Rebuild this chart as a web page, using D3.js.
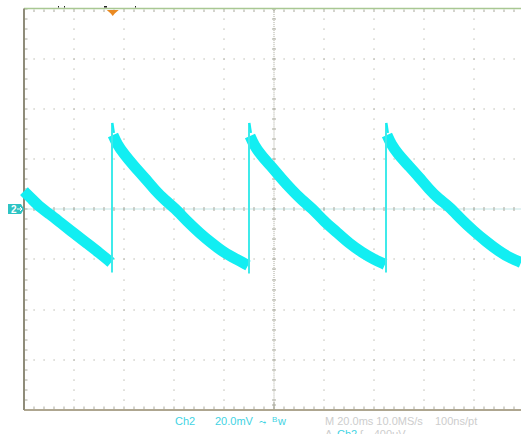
<!DOCTYPE html>
<html>
<head>
<meta charset="utf-8">
<script src="https://cdn.jsdelivr.net/npm/d3@7"></script>
<style>
  html, body { margin: 0; padding: 0; background: #ffffff; }
  svg { display: block; font-family: "Liberation Sans", Arial, sans-serif; }
</style>
</head>
<body>
<svg id="scope" width="521" height="434"></svg>
<script>
// Channel 2 capture: time in ms across the screen (20 ms/div), amplitude in mV (20 mV/div)
const rampTimes = [
  [0, 3.2, 6.4, 10.4, 14.4, 20.0, 25.2, 30.4, 34.8],
  [35.6, 37.2, 40.0, 44.0, 48.4, 52.4, 56.4, 60.4, 65.2, 70.4, 75.2, 80.4, 85.2, 89.6],
  [90.4, 92.0, 94.8, 98.8, 103.2, 107.2, 111.2, 115.2, 120.0, 125.2, 130.0, 135.2, 140.0, 144.4],
  [145.2, 146.8, 149.6, 153.6, 158.0, 162.0, 166.0, 170.0, 174.8, 180.0, 184.8, 190.0, 194.8, 198.8]
];
const rampMv = [
  [7.2, 4.0, 0.8, -2.0, -5.2, -9.6, -13.6, -17.6, -21.2],
  [29.6, 26.0, 22.0, 17.2, 12.4, 7.6, 3.6, 0.4, -4.8, -9.6, -13.6, -17.6, -20.0, -22.4],
  [29.2, 25.6, 21.6, 17.2, 12.0, 7.6, 3.6, 0.4, -4.8, -9.2, -13.6, -17.2, -20.0, -22.0],
  [29.6, 26.0, 22.0, 17.6, 12.8, 8.0, 4.0, 1.2, -4.0, -8.8, -12.8, -16.8, -19.6, -21.2]
];
// Fast edges: time, bottom and top of each jump (mV)
const edgeTimes = [35.2, 90.0, 144.8];
const edgeLowMv = [-25.2, -25.6, -25.2];
const edgeHighMv = [34.4, 34.4, 34.4];

// Readout text
const readoutLeft = [["Ch2", 175], ["20.0mV", 215]];
const readoutRight = [["M 20.0ms 10.0MS/s", 325], ["100ns/pt", 435]];
const triggerSource = "Ch2";
const triggerLevel = "-400\u03bcV";
const triggerTimeMs = 35.5;

const svg = d3.select("#scope");
const frameL = 24, frameR = 524, frameT = 8.5, frameB = 410;

const x = d3.scaleLinear().domain([0, 200]).range([frameL, frameR]);
const y = d3.scaleLinear().domain([-80, 80]).range([frameB, frameT]);

const gridColor = "#a9a99c";
const g = svg.append("g");

// Dotted graticule: a dot every minor step along every major line
const majorT = d3.range(20, 200, 20);
const majorV = d3.range(-60, 61, 20).filter(v => v !== 0);
const minorT = d3.range(0, 200.01, 4);
const minorV = d3.range(-80, 80.01, 4);

majorT.filter(t => t !== 100).forEach(t => {
  minorV.forEach(v => {
    g.append("rect").attr("x", Math.round(x(t)) - 0.5).attr("y", Math.round(y(v)) - 0.5)
      .attr("width", 1).attr("height", 1.2).attr("fill", gridColor);
  });
});
majorV.forEach(v => {
  minorT.forEach(t => {
    g.append("rect").attr("x", Math.round(x(t)) - 0.5).attr("y", Math.round(y(v)) - 0.5)
      .attr("width", 1.2).attr("height", 1).attr("fill", gridColor);
  });
});

// Centre cross: fine dots with minor ticks
const cx = Math.round(x(100)), cy = Math.round(y(0));
d3.range(0, 200.01, 0.8).forEach(t => {
  g.append("rect").attr("x", x(t) - 0.5).attr("y", cy - 0.5).attr("width", 1).attr("height", 1)
    .attr("fill", "#8ccaca");
});
d3.range(-80, 80.01, 0.8).forEach(v => {
  g.append("rect").attr("x", cx - 0.5).attr("y", y(v) - 0.5).attr("width", 1).attr("height", 1)
    .attr("fill", gridColor);
});
minorT.forEach(t => {
  g.append("line").attr("x1", Math.round(x(t))).attr("x2", Math.round(x(t)))
    .attr("y1", cy - 2).attr("y2", cy + 2).attr("stroke", gridColor).attr("stroke-width", 1);
});
minorV.forEach(v => {
  g.append("line").attr("x1", cx - 2).attr("x2", cx + 2)
    .attr("y1", Math.round(y(v))).attr("y2", Math.round(y(v))).attr("stroke", gridColor).attr("stroke-width", 1);
});

// Edge ticks
minorT.forEach(t => {
  const xt = Math.round(x(t));
  g.append("line").attr("x1", xt).attr("x2", xt).attr("y1", frameT + 1).attr("y2", frameT + 3.5)
    .attr("stroke", gridColor).attr("stroke-width", 1);
  g.append("line").attr("x1", xt).attr("x2", xt).attr("y1", frameB - 1).attr("y2", frameB - 3.5)
    .attr("stroke", gridColor).attr("stroke-width", 1);
});
minorV.forEach(v => {
  const yv = Math.round(y(v));
  g.append("line").attr("x1", frameL + 1).attr("x2", frameL + 3.5).attr("y1", yv).attr("y2", yv)
    .attr("stroke", gridColor).attr("stroke-width", 1);
});
// Centre tick on the lower edge
g.append("line").attr("x1", cx).attr("x2", cx).attr("y1", frameB - 8).attr("y2", frameB)
  .attr("stroke", gridColor).attr("stroke-width", 1);
g.append("line").attr("x1", cx - 2).attr("x2", cx + 2).attr("y1", frameB - 5).attr("y2", frameB - 5)
  .attr("stroke", gridColor).attr("stroke-width", 1);

// Frame
g.append("line").attr("x1", frameL).attr("x2", frameR).attr("y1", frameT).attr("y2", frameT)
  .attr("stroke", "#a9c892").attr("stroke-width", 1.5);
g.append("line").attr("x1", frameL).attr("x2", frameR).attr("y1", frameB).attr("y2", frameB)
  .attr("stroke", "#aea690").attr("stroke-width", 2);
g.append("line").attr("x1", frameL).attr("x2", frameL).attr("y1", frameT).attr("y2", frameB)
  .attr("stroke", "#8f8c7a").attr("stroke-width", 2);

// Small status marks above the frame
[[58, 1], [64, 1], [104, 3], [135, 1]].forEach(([mx, w]) => {
  svg.append("rect").attr("x", mx).attr("y", 6).attr("width", w).attr("height", 1.5).attr("fill", "#222");
});

// Trigger position marker
const tx = x(triggerTimeMs);
svg.append("path")
  .attr("d", `M${tx - 6},${frameT + 1.5} L${tx + 6},${frameT + 1.5} L${tx + 2},${frameT + 5} L${tx},${frameT + 7.5} L${tx - 2},${frameT + 5} Z`)
  .attr("fill", "#ea8a22");

// Waveform: the noisy trace is drawn as a wide band
const traceColor = "#12eef2";
const line = d3.line().x(d => x(d[0])).y(d => y(d[1])).curve(d3.curveBasis);
rampTimes.forEach((ts, i) => {
  const pts = ts.map((t, k) => [t, rampMv[i][k]]);
  svg.append("path").attr("d", line(pts)).attr("fill", "none")
    .attr("stroke", traceColor).attr("stroke-width", 11)
    .attr("stroke-linejoin", "round").attr("stroke-linecap", "butt");
});
edgeTimes.forEach((t, i) => {
  svg.append("line").attr("x1", x(t)).attr("x2", x(t))
    .attr("y1", y(edgeLowMv[i])).attr("y2", y(edgeHighMv[i]))
    .attr("stroke", "#3feaea").attr("stroke-width", 2);
  svg.append("line").attr("x1", x(t) + 0.5).attr("x2", x(t) + 2)
    .attr("y1", y(edgeHighMv[i])).attr("y2", y(edgeHighMv[i] - 4))
    .attr("stroke", traceColor).attr("stroke-width", 2);
});

// Channel 2 ground marker
const marker = svg.append("g").attr("transform", `translate(8,${cy - 5})`);
marker.append("path").attr("d", "M0,0 H13 L16,5 L13,10 H0 Z").attr("fill", "#2ec4c4");
marker.append("text").attr("x", 3).attr("y", 9).attr("font-size", 10).attr("font-weight", "bold")
  .attr("fill", "#ffffff").text("2");
marker.append("path").attr("d", "M9,5 H14 M12,3 L14,5 L12,7").attr("stroke", "#ffffff")
  .attr("stroke-width", 1).attr("fill", "none");

// Readout
const fs = 11;
readoutLeft.forEach(([s, px]) => {
  svg.append("text").attr("x", px).attr("y", 425).attr("font-size", fs).attr("fill", "#3fd3e3").text(s);
});
svg.append("text").attr("x", 259).attr("y", 425).attr("font-size", 9).attr("fill", "#3fd3e3").text("\u2933");
svg.append("text").attr("x", 272).attr("y", 422).attr("font-size", 8).attr("fill", "#3fd3e3").text("B");
svg.append("text").attr("x", 278).attr("y", 425).attr("font-size", fs).attr("fill", "#3fd3e3").text("w");
readoutRight.forEach(([s, px]) => {
  svg.append("text").attr("x", px).attr("y", 425).attr("font-size", fs).attr("fill", "#cdcdcd").text(s);
});
// Trigger readout line (runs past the lower edge of the display)
svg.append("text").attr("x", 325).attr("y", 438).attr("font-size", fs).attr("fill", "#cdcdcd").text("A");
svg.append("text").attr("x", 337).attr("y", 438).attr("font-size", fs).attr("fill", "#3fd3e3").text(triggerSource);
svg.append("text").attr("x", 360).attr("y", 438).attr("font-size", fs).attr("fill", "#cdcdcd").text("\u0283");
svg.append("text").attr("x", 370).attr("y", 438).attr("font-size", fs).attr("fill", "#cdcdcd").text(triggerLevel);
</script>
</body>
</html>
